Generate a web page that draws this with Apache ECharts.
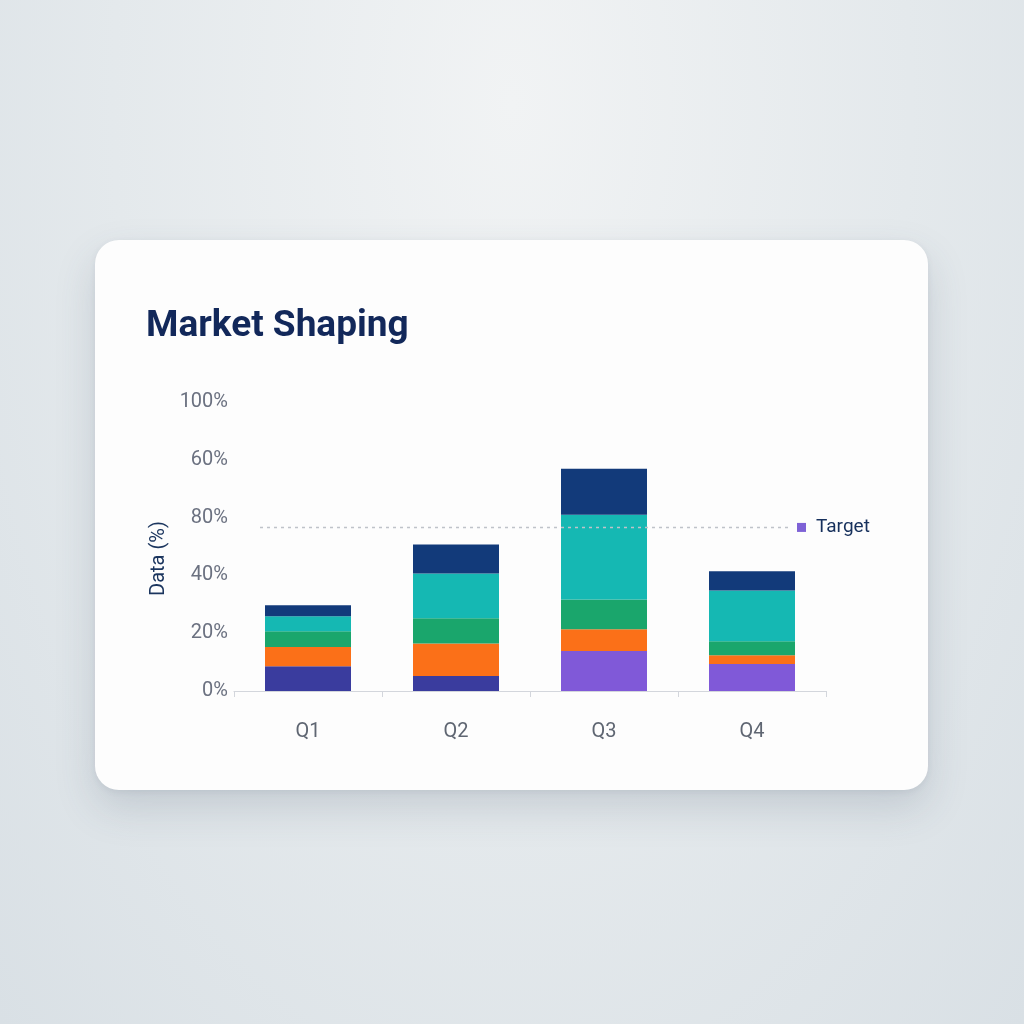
<!DOCTYPE html>
<html>
<head>
<meta charset="utf-8">
<script src="https://cdn.jsdelivr.net/npm/echarts@6/dist/echarts.min.js"></script>
<style>
  html, body { margin: 0; padding: 0; width: 1024px; height: 1024px; overflow: hidden;
    background: radial-gradient(ellipse at 50% 10%, #f1f3f4 0%, #e4e9ec 55%, #d9e0e5 100%); }
  #card { position: absolute; left: 95px; top: 240px; width: 833px; height: 550px;
    background: #fdfdfd; border-radius: 24px;
    box-shadow: 0 18px 40px rgba(60, 80, 100, 0.18), 0 2px 6px rgba(60, 80, 100, 0.08); }
  #main { position: absolute; left: 0; top: 0; width: 1024px; height: 1024px; }
</style>
</head>
<body>
<div id="card"></div>
<div id="main"></div>
<script>
// 数据
var quarters = ['Q1', 'Q2', 'Q3', 'Q4'];
var yTickLabels = ['0%', '20%', '40%', '80%', '60%', '100%'];   // 原图刻度顺序如此
var baseSeg   = [8.6, 5.2, 13.8, 9.3];
var baseColor = ['#3a3c9e', '#3a3c9e', '#8059d8', '#8059d8'];
var orangeSeg = [6.6, 11.2, 7.6, 3.1];
var greenSeg  = [5.5, 8.8, 10.3, 4.8];
var tealSeg   = [5.2, 15.5, 29.3, 17.6];
var navySeg   = [3.8, 10.0, 15.9, 6.6];
var targetValue = 56.6;

var myChart = echarts.init(document.getElementById('main'));

function seg(name, data, color) {
    return {
        name: name,
        type: 'bar',
        stack: 'total',
        barWidth: 86,
        data: data,
        itemStyle: { color: color },
        emphasis: { disabled: true }
    };
}

var baseSeries = seg('Base', baseSeg.map(function (v, i) {
    return { value: v, itemStyle: { color: baseColor[i] } };
}), '#3a3c9e');

var topSeries = seg('Top', navySeg, '#123a7a');
// 目标线 (虚线), 左右端点用像素位置
topSeries.markLine = {
    symbol: 'none',
    silent: true,
    z: 10,
    lineStyle: { color: '#bfc3c9', type: [3, 4], width: 1.3 },
    label: {
        position: 'end',
        distance: 5,
        formatter: '{sq|}{t|Target}',
        rich: {
            sq: { backgroundColor: '#7e62d6', width: 9, height: 9 },
            t: { color: '#16305c', fontSize: 19, padding: [0, 0, 0, 10], fontFamily: 'Roboto' }
        }
    },
    data: [[{ x: 260, yAxis: targetValue }, { x: 792, yAxis: targetValue }]]
};

option = {
    animation: false,
    title: {
        text: 'Market Shaping',
        left: 141,
        top: 303,
        textStyle: { color: '#12285a', fontSize: 37, fontWeight: 'bold', fontFamily: 'Roboto' }
    },
    grid: { left: 234, right: 198, top: 402, bottom: 333 },
    xAxis: {
        type: 'category',
        data: quarters,
        axisLine: { lineStyle: { color: '#d3d6dc', width: 1.2 } },
        axisTick: { show: true, length: 6, lineStyle: { color: '#d3d6dc' } },
        axisLabel: { color: '#5f6672', fontSize: 20, margin: 31, fontFamily: 'Roboto' }
    },
    yAxis: {
        type: 'value',
        min: 0,
        max: 100,
        interval: 20,
        name: 'Data (%)',
        nameLocation: 'middle',
        nameGap: 64,
        nameTextStyle: { color: '#1b355e', fontSize: 20, fontFamily: 'Roboto', padding: [0, 24, 0, 0] },
        splitLine: { show: false },
        axisLine: { show: false },
        axisTick: { show: false },
        axisLabel: {
            color: '#6b7180', fontSize: 20, margin: 6, fontFamily: 'Roboto',
            padding: [4, 0, 0, 0],
            formatter: function (v) { return yTickLabels[Math.round(v / 20)]; }
        }
    },
    series: [
        baseSeries,
        seg('Orange', orangeSeg, '#fb7018'),
        seg('Green', greenSeg, '#1aa66c'),
        seg('Teal', tealSeg, '#15b8b3'),
        topSeries
    ]
};

myChart.setOption(option);
</script>
</body>
</html>
